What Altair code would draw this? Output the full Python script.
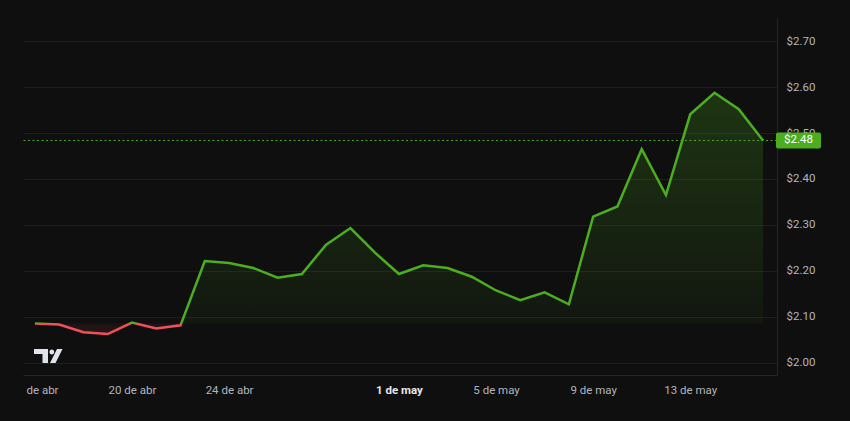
import altair as alt
import pandas as pd

# ---------------- data ----------------
dates = [
    "2024-04-16", "2024-04-17", "2024-04-18", "2024-04-19", "2024-04-20",
    "2024-04-21", "2024-04-22", "2024-04-23", "2024-04-24", "2024-04-25",
    "2024-04-26", "2024-04-27", "2024-04-28", "2024-04-29", "2024-04-30",
    "2024-05-01", "2024-05-02", "2024-05-03", "2024-05-04", "2024-05-05",
    "2024-05-06", "2024-05-07", "2024-05-08", "2024-05-09", "2024-05-10",
    "2024-05-11", "2024-05-12", "2024-05-13", "2024-05-14", "2024-05-15",
    "2024-05-16",
]
prices = [
    2.085, 2.083, 2.066, 2.062, 2.087, 2.074, 2.081,
    2.221, 2.217, 2.206, 2.185, 2.193, 2.257, 2.293, 2.240,
    2.193, 2.212, 2.206, 2.187, 2.157, 2.136, 2.153, 2.127,
    2.318, 2.340, 2.465, 2.365, 2.541, 2.588, 2.552, 2.484,
]
tick_dates = ["2024-04-16T07:00:00", "2024-04-20", "2024-04-24", "2024-05-01",
              "2024-05-05", "2024-05-09", "2024-05-13"]
tick_labels = ["de abr", "20 de abr", "24 de abr", "1 de may",
               "5 de may", "9 de may", "13 de may"]
bold_label = "1 de may"
y_ticks = [2.0, 2.1, 2.2, 2.3, 2.4, 2.5, 2.6, 2.7]

GREEN = "#4cae1f"
RED = "#f0505a"
BG = "#0f0f0f"
LABEL = "#b2b5be"
FONT = "Roboto"
DAY = 86400000


def ms(s):
    return int(pd.Timestamp(s, tz="UTC").value // 10**6)


df = pd.DataFrame({"t": [ms(d) for d in dates], "price": prices})
baseline = prices[0]
last = prices[-1]
price_df = pd.DataFrame({"price": [last], "label": [f"${last:.2f}"]})

tick_ms = [ms(d) for d in tick_dates]
label_expr = "".join(
    f"time(datum.value) == {t} ? '{l}' : " for t, l in zip(tick_ms, tick_labels)
) + "''"
bold_ms = tick_ms[tick_labels.index(bold_label)]
bold_test = f"time(datum.value) == {bold_ms}"

x_domain = [ms(dates[0]) - 0.49 * DAY, ms(dates[-1]) + 0.575 * DAY]
y_domain = [1.9837, 2.740]

# gradient split at the baseline (relative to the bounding box of the series)
vmax, vmin = max(prices), min(prices)
off = (vmax - baseline) / (vmax - vmin)

line_grad = alt.LinearGradient(
    gradient="linear", x1=0, x2=0, y1=0, y2=1,
    stops=[
        alt.GradientStop(color=GREEN, offset=0),
        alt.GradientStop(color=GREEN, offset=off),
        alt.GradientStop(color=RED, offset=off),
        alt.GradientStop(color=RED, offset=1),
    ],
)
area_grad = alt.LinearGradient(
    gradient="linear", x1=0, x2=0, y1=0, y2=1,
    stops=[
        alt.GradientStop(color="rgba(76,174,31,0.24)", offset=0),
        alt.GradientStop(color="rgba(76,174,31,0.05)", offset=off),
        alt.GradientStop(color="rgba(240,80,90,0.05)", offset=off),
        alt.GradientStop(color="rgba(240,80,90,0.12)", offset=1),
    ],
)

x_enc = alt.X(
    "t:T",
    scale=alt.Scale(type="utc", domain=x_domain, nice=False),
    axis=alt.Axis(
        values=tick_ms,
        labelExpr=label_expr,
        grid=False,
        ticks=False,
        domain=True,
        domainColor="#262626",
        labelPadding=9,
        labelFont=FONT,
        labelFontSize=11.5,
        labelColor=alt.condition(bold_test, alt.value("#e6e6e6"), alt.value(LABEL)),
        labelFontWeight=alt.condition(bold_test, alt.value("bold"), alt.value("normal")),
        labelOverlap=False,
        title="",
    ),
)
y_enc = alt.Y(
    "price:Q",
    scale=alt.Scale(domain=y_domain, zero=False, nice=False),
    axis=alt.Axis(
        orient="right",
        values=y_ticks,
        labelExpr="'$' + format(datum.value, '.2f')",
        grid=True,
        gridColor="#1e1e1e",
        gridWidth=1,
        ticks=False,
        domain=True,
        domainColor="#262626",
        labelPadding=9,
        labelAlign="left",
        labelFont=FONT,
        labelFontSize=11.5,
        labelColor=LABEL,
        labelOverlap=False,
        title="",
    ),
)

base = alt.Chart(df)
area = base.mark_area(fill=area_grad).encode(x=x_enc, y=y_enc, y2=alt.datum(baseline))
line = base.mark_line(stroke=line_grad, strokeWidth=2.5).encode(x="t:T", y="price:Q")

rule = alt.Chart(price_df).mark_rule(
    color=GREEN, strokeDash=[2, 2.5], strokeWidth=1
).encode(y="price:Q")

box = alt.Chart(price_df).mark_bar(
    orient="horizontal", size=16, color=GREEN, cornerRadius=2
).encode(x=alt.value(753), x2=alt.value(798), y="price:Q")

box_text = alt.Chart(price_df).mark_text(
    color="white", font=FONT, fontSize=11.5, align="center", baseline="middle"
).encode(x=alt.value(775.5), y="price:Q", text="label:N")

logo_path = (
    "M-14.5,-7 L-0.5,-7 L-0.5,7 L-6,7 L-6,-2 L-14.5,-2 Z "
    "M0.9,-4 A2.4,2.4 0 1,0 5.7,-4 A2.4,2.4 0 1,0 0.9,-4 Z "
    "M8.5,-7 L14,-7 L7,7 L1.5,7 Z"
)
logo = alt.Chart(pd.DataFrame({"k": [0]})).mark_point(
    shape=logo_path, size=4, filled=True, fill="#e0e3eb", strokeWidth=0, opacity=1
).encode(x=alt.value(25.5), y=alt.value(338))

chart = (
    alt.layer(area, rule, line, box, box_text, logo)
    .properties(
        width=754,
        height=357,
        background=BG,
        padding={"left": 15, "top": 10, "right": 65, "bottom": 38},
        autosize=alt.AutoSizeParams(type="none"),
    )
    .configure_view(strokeWidth=0)
)

chart.save(
    "out.html",
    embed_options={
        "renderer": "svg",
        "actions": False,
        "defaultStyle": "body { background: #0f0f0f; }",
    },
)
